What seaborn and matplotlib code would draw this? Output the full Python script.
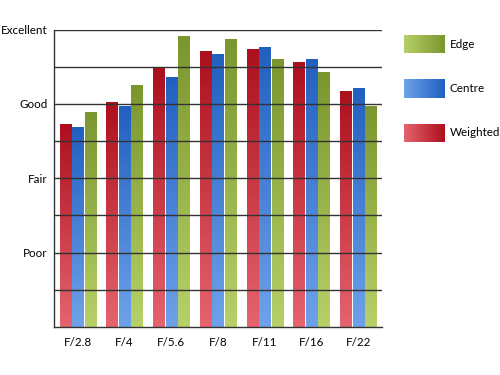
import matplotlib
matplotlib.use("Agg")
import matplotlib.pyplot as plt
import matplotlib.colors as mcolors
import seaborn as sns
import numpy as np
import pandas as pd

# values (0 = bottom, 1 = Poor ... 4 = Excellent)
apertures = ['F/2.8', 'F/4', 'F/5.6', 'F/8', 'F/11', 'F/16', 'F/22']
weighted = [2.72, 3.02, 3.47, 3.70, 3.73, 3.56, 3.16]
centre = [2.68, 2.96, 3.36, 3.66, 3.76, 3.60, 3.21]
edge = [2.89, 3.25, 3.91, 3.87, 3.60, 3.42, 2.96]
series = ['Weighted', 'Centre', 'Edge']
rating_ticks = [1, 2, 3, 4]
rating_labels = ['Poor', 'Fair', 'Good', 'Excellent']

# (light bottom colour, dark top colour)
grads = {
    'Weighted': ('#e5646e', '#ad0f1d'),
    'Centre': ('#6ea2ea', '#2260c0'),
    'Edge': ('#b8d068', '#7a962e'),
}

df = pd.DataFrame({
    'aperture': apertures * 3,
    'score': weighted + centre + edge,
    'series': [s for s in series for _ in apertures],
})

sns.set_style('white')
plt.rcParams['font.family'] = ['Lato', 'DejaVu Sans']
plt.rcParams['text.color'] = 'black'
plt.rcParams['xtick.labelcolor'] = 'black'
plt.rcParams['ytick.labelcolor'] = 'black'
fs = 8.4

fig = plt.figure(figsize=(5, 3.75), dpi=100)
ax = fig.add_axes([0.1086, 0.128, 0.6548, 0.7933])

sns.barplot(data=df, x='aperture', y='score', hue='series', hue_order=series,
            order=apertures, width=0.8, dodge=True, legend=False, ax=ax,
            palette=[grads[s][1] for s in series], gap=0.1)

# replace flat bars with vertical gradients
grad_img = np.linspace(0, 1, 256).reshape(-1, 1)
for i, bar in enumerate(ax.patches):
    s = series[i // len(apertures)]
    cmap = mcolors.LinearSegmentedColormap.from_list(s, [grads[s][0], grads[s][1]])
    x0, y0 = bar.get_x(), bar.get_y()
    w, h = bar.get_width(), bar.get_height()
    ax.imshow(grad_img, extent=[x0, x0 + w, y0, y0 + h], origin='lower',
              aspect='auto', cmap=cmap, zorder=1, interpolation='bilinear')
    bar.set_facecolor('none')
    bar.set_edgecolor('none')

ax.set_xlim(-0.5, len(apertures) - 0.5)
ax.set_ylim(0, 4)
ax.set_yticks(rating_ticks)
ax.set_yticklabels(rating_labels, fontsize=fs)
ax.set_xticks(range(len(apertures)))
ax.set_xticklabels(apertures, fontsize=fs)
ax.set_xticks(np.arange(0.5, len(apertures) + 0.5, 1), minor=True)
ax.tick_params(axis='x', which='major', length=0, pad=7)
ax.tick_params(axis='x', which='minor', direction='in', length=4, width=1, color='#222222')
ax.tick_params(axis='y', length=0, pad=5)
ax.set_xlabel('')
ax.set_ylabel('')

for yv in np.arange(0.5, 4.01, 0.5):
    ax.axhline(yv, color='#333333', lw=1, zorder=3)

for side in ['top', 'right']:
    ax.spines[side].set_visible(False)
for side in ['left', 'bottom']:
    ax.spines[side].set_color('#333333')
    ax.spines[side].set_linewidth(1)
    ax.spines[side].set_zorder(4)

# legend with horizontal gradient swatches
hgrad = np.linspace(0, 1, 256).reshape(1, -1)
legend_order = ['Edge', 'Centre', 'Weighted']
for k, s in enumerate(legend_order):
    yc = 44 + k * 44.5
    lax = fig.add_axes([404 / 500, 1 - (yc + 9.5) / 375, 41 / 500, 19 / 375])
    cmap = mcolors.LinearSegmentedColormap.from_list(s + 'h', [grads[s][0], grads[s][1]])
    lax.imshow(hgrad, aspect='auto', cmap=cmap, interpolation='bilinear')
    lax.axis('off')
    fig.text(450 / 500, 1 - yc / 375, s, fontsize=fs, va='center', ha='left')

fig.savefig('out.png', dpi=100)
